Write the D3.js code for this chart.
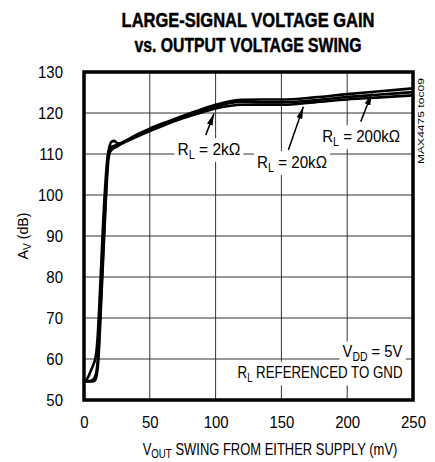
<!DOCTYPE html>
<html><head><meta charset="utf-8">
<script src="https://cdn.jsdelivr.net/npm/d3@7/dist/d3.min.js"></script>
<style>
body{margin:0;background:#fff;}
text{font-family:"Liberation Sans",Arial,sans-serif;fill:#000;}
</style></head><body>
<svg id="c" width="435" height="462"></svg>
<script>
const xTicks=[0,50,100,150,200,250];
const yTicks=[50,60,70,80,90,100,110,120,130];
const curve2k=[[0.8,54.6],[4,54.6],[7,55],[8.5,55.8],[9.5,57],[10.5,60],[11.5,65],[12.5,72],[13.5,79],[14.5,86],[15.5,93],[16.5,100],[17.5,106],[18.5,110],[19.5,112],[21,113],[23,113.2],[25,112.7],[28,112.6],[32,113.2],[40,114.5],[50,116],[60,117.2],[75,119],[90,120.6],[100,121.6],[110,122.4],[120,122.7],[135,122.6],[150,122.6],[175,123.1],[200,123.9],[225,124.5],[250,125.1]];
const curve20k=[[0.8,54.5],[5,54.5],[8,54.7],[9.5,55.8],[10.5,58],[11.5,63],[12.5,70],[13.5,77],[14.5,84],[15.5,91],[16.5,98],[17.5,104],[18.5,108.5],[19.5,110.3],[21,111],[25,111.8],[30,112.7],[40,114.2],[50,115.6],[60,116.9],[75,118.7],[90,120.2],[100,121.1],[110,121.7],[120,122],[135,122],[150,122],[175,122.6],[200,123.3],[225,123.8],[250,124.3]];
const curve200k=[[0.8,54.6],[3,55.5],[5,57],[7,58.5],[8.5,60],[9.5,62],[10.5,66],[11.5,72],[12.5,79],[13.5,86],[14.5,93],[15.5,99],[16.5,104],[17.5,108],[18.5,110.5],[20,111.5],[23,112],[27,112.5],[32,113.3],[40,114.7],[50,116.2],[60,117.5],[75,119.3],[90,121],[100,122],[110,122.8],[120,123.2],[135,123.3],[150,123.3],[175,123.8],[200,124.6],[225,125.3],[250,126]];
const series=[curve2k,curve20k,curve200k];

const svg=d3.select("#c");
const x=d3.scaleLinear([0,250],[84,413]);
const y=d3.scaleLinear([50,130],[400,72]);

// text squeezed horizontally to a target width, via a scale transform
function squeezed(parent,px,py,anchor,width,build,rot){
  const g=parent.append("g");
  const t=g.append("text").attr("text-anchor",anchor);
  build(t);
  const w=t.node().getComputedTextLength();
  const k=width/w;
  g.attr("transform",`translate(${px},${py})${rot?` rotate(${rot})`:""} scale(${k},1)`);
  return {g,t,k};
}

// title
squeezed(svg,248,27,"middle",253,t=>t.attr("font-size",21).attr("font-weight","bold")
  .attr("stroke","#000").attr("stroke-width",0.5).text("LARGE-SIGNAL VOLTAGE GAIN"));
squeezed(svg,248,52,"middle",227,t=>t.attr("font-size",21).attr("font-weight","bold")
  .attr("stroke","#000").attr("stroke-width",0.5).text("vs. OUTPUT VOLTAGE SWING"));

// grid
const g=svg.append("g");
g.selectAll(".vg").data(xTicks.slice(1,-1)).join("line")
  .attr("x1",d=>x(d)).attr("x2",d=>x(d)).attr("y1",y(130)).attr("y2",y(50))
  .attr("stroke","#333").attr("stroke-width",1);
g.selectAll(".hg").data(yTicks.slice(1,-1)).join("line")
  .attr("x1",x(0)).attr("x2",x(250)).attr("y1",d=>y(d)).attr("y2",d=>y(d))
  .attr("stroke","#333").attr("stroke-width",1);

// axes tick labels (narrowed by scale transform)
const xa=d3.axisBottom(x).tickValues(xTicks).tickSize(0).tickPadding(0);
const xg=svg.append("g").attr("transform",`translate(0,${y(50)})`).call(xa);
xg.select(".domain").remove();
xg.selectAll("text").attr("font-size",17).attr("font-family",null).attr("dy",null)
  .attr("y",null).attr("transform","translate(0,28) scale(0.88,1)");
const ya=d3.axisLeft(y).tickValues(yTicks).tickSize(0).tickPadding(0);
const yg=svg.append("g").attr("transform",`translate(${x(0)},0)`).call(ya);
yg.select(".domain").remove();
yg.selectAll("text").attr("font-size",17).attr("font-family",null).attr("x",null)
  .attr("transform","translate(-21,0) scale(0.88,1)");

// axis titles
squeezed(svg,270,455,"middle",255,t=>{
  t.attr("font-size",16);
  t.append("tspan").text("V");
  t.append("tspan").attr("font-size",12).attr("dy",3).text("OUT");
  t.append("tspan").attr("dy",-3).text(" SWING FROM EITHER SUPPLY (mV)");
});
squeezed(svg,28,236,"middle",47,t=>{
  t.attr("font-size",15);
  t.append("tspan").text("A");
  t.append("tspan").attr("font-size",11).attr("dy",3).text("V");
  t.append("tspan").attr("dy",-3).text(" (dB)");
},-90);

// curves
const line=d3.line().x(d=>x(d[0])).y(d=>y(d[1])).curve(d3.curveMonotoneX);
svg.selectAll(".crv").data(series).join("path")
  .attr("d",line).attr("fill","none").attr("stroke","#000").attr("stroke-width",2.6);

// labels with white boxes
function label(px,py,parts,len,anchor){
  const s=squeezed(svg,px,py,anchor||"start",len,t=>{
    t.attr("font-size",17);
    parts.forEach(p=>{
      const sp=t.append("tspan").text(p[0]);
      if(p[1]==="sub"){sp.attr("font-size",12).attr("dy",4);} else if(p[1]==="up"){sp.attr("dy",-4);}
    });
  });
  const b=s.t.node().getBBox();
  s.g.insert("rect","text").attr("x",b.x-3/s.k).attr("y",b.y-1).attr("width",b.width+6/s.k).attr("height",b.height+2).attr("fill","#fff");
}
label(x(71),y(109.8),[["R"],["L","sub"],[" = 2kΩ","up"]],63);
label(x(131.5),y(106.6),[["R"],["L","sub"],[" = 20kΩ","up"]],70);
label(x(181),y(112.9),[["R"],["L","sub"],[" = 200kΩ","up"]],78);
label(x(242),y(60.4),[["V"],["DD","sub"],[" = 5V","up"]],60,"end");
label(x(242),y(55.3),[["R"],["L","sub"],[" REFERENCED TO GND","up"]],165,"end");

// arrows
const arrows=[[[92.5,114.6],[98.8,119.9]],[[155.3,111],[166.7,121.5]],[[210.3,117.9],[218.7,124.8]]];
svg.append("defs").append("marker").attr("id","ah").attr("viewBox","0 0 12 6").attr("refX",12).attr("refY",3)
  .attr("markerWidth",12).attr("markerHeight",6).attr("markerUnits","userSpaceOnUse").attr("orient","auto")
  .append("path").attr("d","M0,0L12,3L0,6Z").attr("fill","#000");
svg.selectAll(".arr").data(arrows).join("line")
  .attr("x1",d=>x(d[0][0])).attr("y1",d=>y(d[0][1])).attr("x2",d=>x(d[1][0])).attr("y2",d=>y(d[1][1]))
  .attr("stroke","#000").attr("stroke-width",1.5).attr("marker-end","url(#ah)");

// border
svg.append("rect").attr("x",x(0)).attr("y",y(130)).attr("width",x(250)-x(0)).attr("height",y(50)-y(130))
  .attr("fill","none").attr("stroke","#000").attr("stroke-width",3.5);

// side code
squeezed(svg,424,164,"start",86,t=>t.attr("font-size",9).text("MAX4475 toc09"),-90);
</script></body></html>
